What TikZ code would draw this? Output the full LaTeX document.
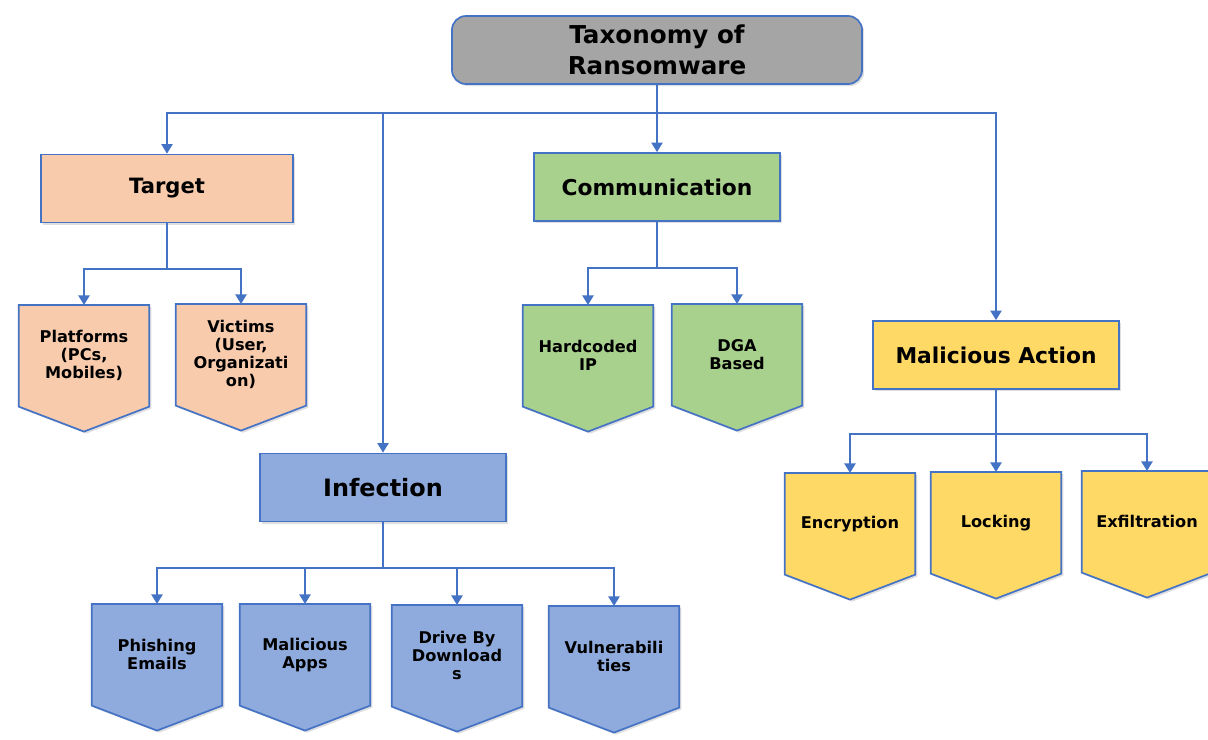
\documentclass[tikz,border=0pt]{standalone}
\usepackage{fontspec}
\setmainfont{DejaVu Sans}
\usepackage{xcolor}
\usetikzlibrary{arrows.meta,positioning,calc,shadows,backgrounds}

\definecolor{edgeblue}{HTML}{4472C4}
\definecolor{rootgray}{HTML}{A5A5A5}
\definecolor{peach}{HTML}{F8CBAD}
\definecolor{leafgreen}{HTML}{A9D18E}
\definecolor{gold}{HTML}{FFD966}
\definecolor{skyblue}{HTML}{8FAADC}

\begin{document}
\begin{tikzpicture}[x=0.025cm,y=-0.025cm]
\tikzset{
  soft/.style={drop shadow={shadow xshift=1.5pt,shadow yshift=-1.5pt,opacity=0.25}},
  root/.style={draw=edgeblue,line width=1.2pt,fill=rootgray,rounded corners=10pt,soft,align=center,minimum width=10.25cm,minimum height=1.7cm,font=\fontsize{17.5}{22}\selectfont\bfseries},
  cat/.style={draw=edgeblue,line width=1.2pt,soft,align=center,minimum width=6.15cm,minimum height=1.7cm,font=\fontsize{15.5}{19}\selectfont\bfseries},
  leaf/.style={anchor=north,align=center,minimum width=3.25cm,minimum height=2.525cm,font=\fontsize{11.5}{12.8}\selectfont\bfseries},
  tip/.style={draw=edgeblue,line width=1.2pt,soft},
  arr/.style={-{Triangle[length=2.4mm,width=2.8mm]},draw=edgeblue,line width=1.3pt}
}
\useasboundingbox (0,0) rectangle (1208,740);

% root and categories
\node[root] (tax) at (657,50) {Taxonomy of\\Ransomware};
\node[cat,fill=peach,minimum width=6.3cm,font=\fontsize{15}{18}\selectfont\bfseries] (target) at (167,188.5) {Target};
\node[cat,fill=leafgreen] (comm) at (657,187) {Communication};
\node[cat,fill=skyblue,font=\fontsize{17}{20}\selectfont\bfseries] (infect) at (383,487.5) {Infection};
\node[cat,fill=gold] (malact) at (996,355) {Malicious Action};

% leaves
\node[leaf] (plat) at (84,305) {Platforms\\(PCs,\\Mobiles)};
\node[leaf] (vict) at (241,304) {Victims\\(User,\\Organizati\\on)};
\node[leaf] (hard) at (588,305) {Hardcoded\\IP};
\node[leaf] (dga) at (737,304) {DGA\\Based};
\node[leaf] (encr) at (850,473) {Encryption};
\node[leaf] (lock) at (996,472) {Locking};
\node[leaf] (exfil) at (1147,471) {Exfiltration};
\node[leaf] (phish) at (157,604) {Phishing\\Emails};
\node[leaf] (apps) at (305,604) {Malicious\\Apps};
\node[leaf] (drive) at (457,605) {Drive By\\Download\\s};
\node[leaf] (vuln) at (614,606) {Vulnerabili\\ties};

\begin{scope}[on background layer]
\foreach \n/\c in {plat/peach,vict/peach,hard/leafgreen,dga/leafgreen,encr/gold,lock/gold,exfil/gold,phish/skyblue,apps/skyblue,drive/skyblue,vuln/skyblue}
  \filldraw[tip,fill=\c] (\n.north west) -- (\n.north east) -- (\n.south east) -- ($(\n.south)+(0,25)$) -- (\n.south west) -- cycle;
\end{scope}

% connectors
\foreach \c in {target,infect,comm,malact}
  \draw[arr] (tax.south) -- ++(0,28) -| (\c.north);
\foreach \c in {plat,vict}
  \draw[arr] (target.south) -- ++(0,46) -| (\c.north);
\foreach \c in {hard,dga}
  \draw[arr] (comm.south) -- ++(0,46) -| (\c.north);
\foreach \c in {encr,lock,exfil}
  \draw[arr] (malact.south) -- ++(0,44) -| (\c.north);
\foreach \c in {phish,apps,drive,vuln}
  \draw[arr] (infect.south) -- ++(0,46) -| (\c.north);
\end{tikzpicture}
\end{document}
